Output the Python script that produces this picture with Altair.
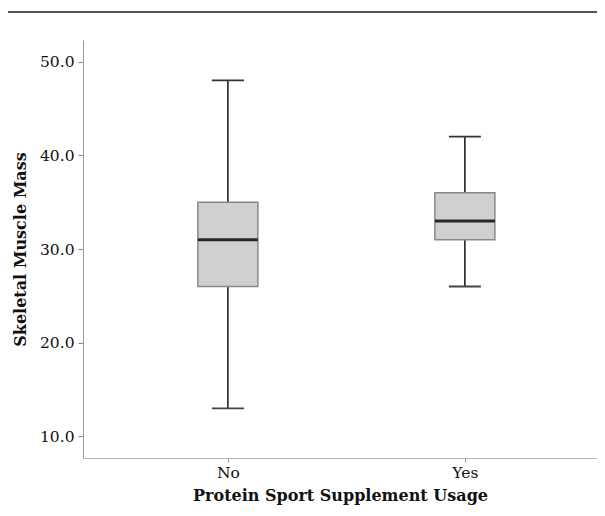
import altair as alt
import pandas as pd

groups = ["No", "Yes"]
mins = [13.0, 26.0]
q1s = [26.0, 31.0]
medians = [31.0, 33.0]
q3s = [35.0, 36.0]
maxs = [48.0, 42.0]
y_ticks = [10, 20, 30, 40, 50]

df = pd.DataFrame({"group": groups, "lo": mins, "q1": q1s, "med": medians,
                   "q3": q3s, "hi": maxs})

FONT = "DejaVu Serif"
W, H = 514, 418

x = alt.X("group:N", sort=groups,
          scale=alt.Scale(type="point", padding=0.5844, align=0.523),
          axis=alt.Axis(title="Protein Sport Supplement Usage", labelAngle=0,
                        tickSize=4, tickColor="#999", domainColor="#b5b5b5",
                        labelPadding=3, titlePadding=7))
yscale = alt.Scale(domain=[7.7, 52.3], nice=False, zero=False)
yax = alt.Axis(title="Skeletal Muscle Mass", values=y_ticks, format=".1f",
               grid=False, tickSize=5, tickColor="#888", domainColor="#999",
               labelPadding=4, titlePadding=11)

base = alt.Chart(df)

whisk = base.mark_rule(color="#222", strokeWidth=1.6).encode(
    x=x, y=alt.Y("lo:Q", scale=yscale, axis=yax), y2="hi:Q")
box = base.mark_bar(size=60, color="#d0d0d3", stroke="#888", strokeWidth=1.5,
                    opacity=1).encode(
    x=x, y=alt.Y("q1:Q", scale=yscale), y2="q3:Q")
med = base.mark_tick(size=60, thickness=3, color="#262626", opacity=1).encode(
    x=x, y=alt.Y("med:Q", scale=yscale))
cap_hi = base.mark_tick(size=32, thickness=1.8, color="#333", opacity=1).encode(
    x=x, y=alt.Y("hi:Q", scale=yscale))
cap_lo = base.mark_tick(size=32, thickness=1.8, color="#444", opacity=1).encode(
    x=x, y=alt.Y("lo:Q", scale=yscale))
topline = base.mark_rule(color="#555", strokeWidth=2).encode(
    x=alt.value(-76), x2=alt.value(W), y=alt.value(-28))

chart = alt.layer(topline, whisk, box, med, cap_hi, cap_lo).properties(
    width=W, height=H,
    autosize=alt.AutoSizeParams(type="none"),
    padding={"left": 75, "top": 32, "right": 0, "bottom": 50},
).configure_view(stroke=None).configure_axis(
    labelFont=FONT, titleFont=FONT, labelFontSize=15.5, titleFontSize=16,
    labelColor="#111", titleColor="#111", titleFontWeight="bold",
)

chart.save("out.html", embed_options={"renderer": "svg", "actions": False})
